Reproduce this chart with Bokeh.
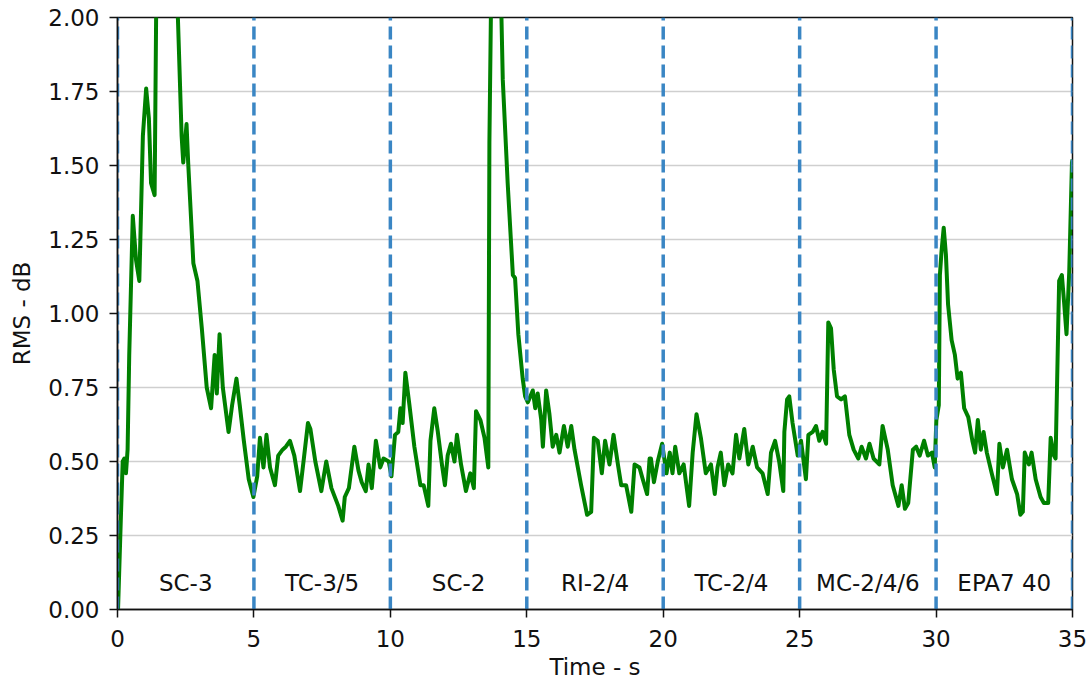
from bokeh.plotting import figure
from bokeh.models import ColumnDataSource, FixedTicker, CustomJSTickFormatter, Range1d
from bokeh.core.properties import value
from bokeh.embed import file_html
from bokeh.resources import INLINE

# ---- data ----
time_s = [0.02, 0.12, 0.19, 0.25, 0.31, 0.37, 0.43, 0.56, 0.68, 0.80, 0.93, 1.05, 1.15, 1.23, 1.36,
          1.42, 1.55, 1.85, 2.10, 2.22, 2.35, 2.41, 2.53, 2.59, 2.78, 2.93, 3.09, 3.27, 3.43, 3.56,
          3.64, 3.74, 3.86, 4.07, 4.20, 4.36, 4.48, 4.63, 4.81, 4.98, 5.12, 5.22, 5.35, 5.46, 5.59,
          5.77, 5.89, 6.05, 6.17, 6.32, 6.48, 6.69, 6.83, 6.98, 7.07, 7.25, 7.47, 7.65, 7.84, 8.09,
          8.25, 8.33, 8.48, 8.68, 8.83, 8.95, 9.10, 9.20, 9.32, 9.47, 9.63, 9.75, 9.94, 10.04, 10.17,
          10.29, 10.37, 10.45, 10.55, 10.70, 10.88, 11.10, 11.22, 11.39, 11.47, 11.61, 11.74, 11.89,
          12.00, 12.10, 12.22, 12.35, 12.44, 12.59, 12.77, 12.93, 13.06, 13.14, 13.30, 13.45, 13.59,
          13.63, 13.69, 13.85, 14.06, 14.12, 14.30, 14.49, 14.57, 14.69, 14.85, 14.94, 15.04, 15.22,
          15.31, 15.40, 15.53, 15.59, 15.71, 15.83, 15.95, 16.08, 16.20, 16.36, 16.50, 16.63, 16.75,
          16.99, 17.21, 17.36, 17.46, 17.60, 17.75, 17.87, 18.03, 18.18, 18.34, 18.46, 18.64, 18.83,
          18.95, 19.13, 19.25, 19.41, 19.50, 19.55, 19.66, 19.80, 19.96, 20.12, 20.24, 20.34, 20.44,
          20.59, 20.75, 20.95, 21.08, 21.22, 21.38, 21.56, 21.75, 21.89, 21.99, 22.11, 22.24, 22.38,
          22.54, 22.67, 22.79, 22.97, 23.12, 23.28, 23.44, 23.64, 23.83, 23.95, 24.10, 24.25, 24.40,
          24.44, 24.54, 24.62, 24.74, 24.93, 25.05, 25.23, 25.32, 25.48, 25.60, 25.72, 25.84, 25.97,
          26.05, 26.15, 26.25, 26.37, 26.52, 26.66, 26.82, 26.98, 27.15, 27.27, 27.43, 27.56, 27.71,
          27.92, 28.04, 28.23, 28.41, 28.62, 28.74, 28.86, 28.98, 29.15, 29.27, 29.40, 29.56, 29.70,
          29.85, 29.95, 30.01, 30.10, 30.14, 30.20, 30.28, 30.36, 30.44, 30.57, 30.69, 30.79, 30.91,
          31.03, 31.18, 31.33, 31.43, 31.53, 31.64, 31.74, 31.86, 32.04, 32.23, 32.32, 32.45, 32.60,
          32.78, 32.97, 33.09, 33.18, 33.25, 33.40, 33.50, 33.65, 33.83, 33.95, 34.11, 34.20, 34.32,
          34.38, 34.51, 34.61, 34.69, 34.78, 34.88, 34.98, 35.00]
rms_db = [0.00, 0.30, 0.50, 0.51, 0.46, 0.54, 0.86, 1.33, 1.18, 1.11, 1.60, 1.76, 1.66, 1.44, 1.40,
          2.05, 2.40, 2.60, 2.30, 1.98, 1.60, 1.51, 1.64, 1.51, 1.17, 1.11, 0.95, 0.75, 0.68, 0.86,
          0.73, 0.93, 0.75, 0.60, 0.69, 0.78, 0.69, 0.57, 0.44, 0.38, 0.45, 0.58, 0.48, 0.59, 0.48,
          0.42, 0.52, 0.54, 0.55, 0.57, 0.52, 0.40, 0.51, 0.63, 0.61, 0.50, 0.40, 0.50, 0.41, 0.35,
          0.30, 0.38, 0.41, 0.55, 0.47, 0.43, 0.40, 0.49, 0.41, 0.57, 0.48, 0.51, 0.50, 0.45, 0.59,
          0.60, 0.68, 0.63, 0.80, 0.69, 0.55, 0.42, 0.42, 0.35, 0.57, 0.68, 0.60, 0.49,
          0.42, 0.52, 0.56, 0.50, 0.59, 0.49, 0.40, 0.46, 0.41, 0.67, 0.64, 0.58, 0.48,
          1.58, 2.05, 2.70, 2.05, 1.79, 1.44, 1.13, 1.12, 0.93, 0.78, 0.72, 0.70, 0.74,
          0.68, 0.73, 0.64, 0.55, 0.74, 0.66, 0.55, 0.59, 0.53, 0.62, 0.55, 0.62, 0.54,
          0.42, 0.32, 0.33, 0.58, 0.57, 0.46, 0.57, 0.49, 0.59, 0.49, 0.42, 0.42, 0.33,
          0.49, 0.48, 0.44, 0.39, 0.51, 0.51, 0.43, 0.50, 0.56, 0.46, 0.53, 0.46, 0.55,
          0.46, 0.49, 0.35, 0.53, 0.66, 0.58, 0.46, 0.49, 0.39, 0.48, 0.53, 0.42, 0.49,
          0.46, 0.59, 0.51, 0.61, 0.49, 0.55, 0.48, 0.46, 0.39, 0.53, 0.57, 0.50, 0.40,
          0.60, 0.71, 0.72, 0.63, 0.52, 0.57, 0.44, 0.59, 0.60, 0.62, 0.57, 0.60, 0.56,
          0.97, 0.95, 0.81, 0.72, 0.71, 0.72, 0.59, 0.54, 0.51, 0.55, 0.51, 0.56, 0.51,
          0.49, 0.62, 0.54, 0.42, 0.35, 0.42, 0.34, 0.36, 0.54, 0.55, 0.52, 0.57, 0.52,
          0.53, 0.48, 0.64, 0.69, 1.13, 1.21, 1.29, 1.20, 1.03, 0.91, 0.86, 0.78, 0.80,
          0.68, 0.65, 0.57, 0.53, 0.64, 0.54, 0.60, 0.53, 0.46, 0.39, 0.56, 0.48, 0.54,
          0.44, 0.39, 0.32, 0.33, 0.53, 0.49, 0.53, 0.44, 0.38, 0.36, 0.36, 0.58, 0.52,
          0.51, 1.11, 1.13, 1.04, 0.93, 1.14, 1.51, 1.52]

boundaries = [0, 5, 10, 15, 20, 25, 30, 35]
segment_names = ["SC-3", "TC-3/5", "SC-2", "RI-2/4", "TC-2/4", "MC-2/4/6", "EPA7 40"]
segment_centers = [2.5, 7.5, 12.5, 17.5, 22.5, 27.5, 32.5]
label_y = [0.09] * len(segment_names)
x_ticks = [0, 5, 10, 15, 20, 25, 30, 35]
y_ticks = [0.0, 0.25, 0.5, 0.75, 1.0, 1.25, 1.5, 1.75, 2.0]

FONT = "DejaVu Sans"
FS = "23px"

p = figure(width=1089, height=688, output_backend="svg", toolbar_location=None,
           x_range=Range1d(0, 35), y_range=Range1d(0, 2),
           min_border_left=117, min_border_right=17, min_border_top=17, min_border_bottom=79)
p.background_fill_color = "white"
p.border_fill_color = "white"
p.outline_line_color = "#111111"
p.outline_line_width = 1.5

p.xgrid.visible = False
p.ygrid.grid_line_color = "#cfcfcf"
p.ygrid.grid_line_width = 1.6
p.ygrid.ticker = FixedTicker(ticks=y_ticks)

src = ColumnDataSource(dict(t=time_s, v=rms_db))
p.line("t", "v", source=src, line_color="#008000", line_width=4, line_join="round")

bsrc = ColumnDataSource(dict(x=boundaries, y0=[0] * len(boundaries), y1=[2] * len(boundaries)))
p.segment(x0="x", y0="y0", x1="x", y1="y1", source=bsrc, line_color="#3a86c4",
          line_width=3.5, line_dash="13 6")

lsrc = ColumnDataSource(dict(x=segment_centers, y=label_y, txt=segment_names))
p.text(x="x", y="y", text="txt", source=lsrc, text_align="center", text_baseline="middle",
       text_font=value(FONT), text_font_size=FS, text_color="#111111")

for ax in (p.xaxis[0], p.yaxis[0]):
    ax.axis_line_color = "#111111"
    ax.axis_line_width = 1.5
    ax.major_tick_line_color = "#111111"
    ax.major_tick_line_width = 1.5
    ax.major_tick_out = 8
    ax.major_tick_in = 0
    ax.minor_tick_line_color = None
    ax.major_label_text_font = FONT
    ax.major_label_text_font_size = FS
    ax.major_label_text_color = "#111111"
    ax.axis_label_text_font = FONT
    ax.axis_label_text_font_size = FS
    ax.axis_label_text_font_style = "normal"
    ax.axis_label_text_color = "#111111"

p.xaxis.ticker = FixedTicker(ticks=x_ticks)
p.yaxis.ticker = FixedTicker(ticks=y_ticks)
p.yaxis.formatter = CustomJSTickFormatter(code="return tick.toFixed(2);")
p.xaxis.major_label_standoff = 12
p.yaxis.major_label_standoff = 10
p.xaxis.axis_label = "Time - s"
p.yaxis.axis_label = "RMS - dB"
p.xaxis.axis_label_standoff = 4
p.yaxis.axis_label_standoff = 10

open("out.html", "w").write(file_html(p, INLINE))
